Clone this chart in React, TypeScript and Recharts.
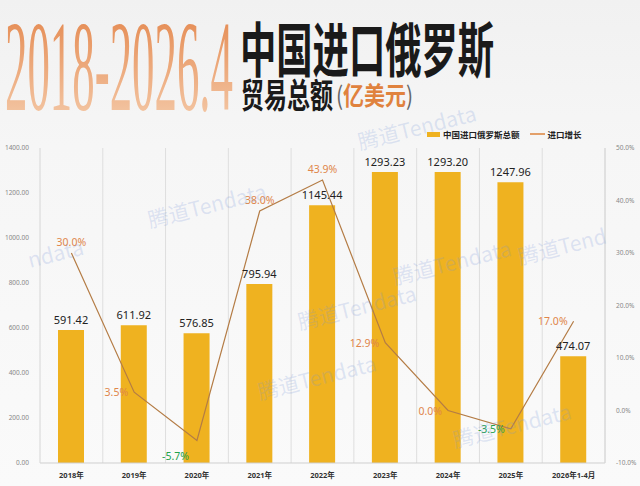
import { ComposedChart, Bar, Line, XAxis, YAxis, CartesianGrid, LabelList } from "recharts";

const YEARS = ["2018年", "2019年", "2020年", "2021年", "2022年", "2023年", "2024年", "2025年", "2026年1-4月"];
const TOTALS = [591.42, 611.92, 576.85, 795.94, 1145.44, 1293.23, 1293.2, 1247.96, 474.07];
const GROWTH = [30.0, 3.5, -5.7, 38.0, 43.9, 12.9, 0.0, -3.5, 17.0];
const LEFT_TICKS = [0, 200, 400, 600, 800, 1000, 1200, 1400];
const RIGHT_TICKS = [-10, 0, 10, 20, 30, 40, 50];

// where each growth label sits relative to its point
const GROWTH_LABEL_SIDE = ["top", "left", "below", "top", "top", "left", "left", "left", "left"];

const data = YEARS.map((year, i) => ({ year, total: TOTALS[i], growth: GROWTH[i] }));

const BAR_COLOR = "#efb220";
const LINE_COLOR = "#b47c45";
const CJK = "'Noto Sans CJK SC', sans-serif";

const WATERMARKS = [
  { x: 30, y: 268, t: "ndata" },
  { x: 150, y: 228, t: "腾道Tendata" },
  { x: 260, y: 400, t: "腾道Tendata" },
  { x: 300, y: 330, t: "腾道Tendata" },
  { x: 395, y: 285, t: "腾道Tendata" },
  { x: 520, y: 265, t: "腾道Tend" },
  { x: 455, y: 448, t: "腾道Tendata" },
  { x: 360, y: 150, t: "腾道Tendata" },
];

function GrowthLabel(props: any) {
  const { x, y, value, index } = props;
  const side = GROWTH_LABEL_SIDE[index];
  const fill = value < 0 ? "#22a24c" : "#e0864a";
  const text = `${Number(value).toFixed(1)}%`;
  if (side === "top") {
    return (
      <text x={x} y={y - 7} textAnchor="middle" fontSize={10.5} fill={fill}>
        {text}
      </text>
    );
  }
  if (side === "below") {
    return (
      <text x={x - 8} y={y + 20} textAnchor="end" fontSize={10.5} fill={fill}>
        {text}
      </text>
    );
  }
  return (
    <text x={x - 6} y={y + 4} textAnchor="end" fontSize={10.5} fill={fill}>
      {text}
    </text>
  );
}

export default function App() {
  return (
    <div
      style={{
        position: "absolute",
        left: 0,
        top: 0,
        width: 640,
        height: 486,
        overflow: "hidden",
        background: "linear-gradient(180deg, #f1f1f1 0%, #f6f6f6 30%, #fafafa 100%)",
        fontFamily: "'Noto Sans', 'Noto Sans CJK SC', sans-serif",
      }}
    >
      <svg width={640} height={122} style={{ position: "absolute", left: 0, top: 0 }}>
        <defs>
          <linearGradient id="yr" x1="0" y1="0" x2="0" y2="1">
            <stop offset="0%" stopColor="#e27f42" />
            <stop offset="100%" stopColor="#f6d2b4" />
          </linearGradient>
        </defs>
        <g transform="translate(5,110) scale(0.345,1)">
          <text x={0} y={0} fontFamily="'Liberation Serif', serif" fontSize={130} fill="url(#yr)">
            2018-2026.4
          </text>
        </g>
        <g transform="translate(240,72) scale(1,1.62)">
          <text x={0} y={0} fontFamily={CJK} fontWeight={700} fontSize={36.3} fill="#1a1a1a">
            中国进口俄罗斯
          </text>
        </g>
        <g transform="translate(241,108) scale(1,1.5)">
          <text x={0} y={0} fontFamily={CJK} fontWeight={700} fontSize={23} fill="#1a1a1a">
            贸易总额
          </text>
        </g>
        <g transform="translate(336,105) scale(1,1.2)">
          <text x={0} y={0} fontFamily={CJK} fontSize={21}>
            <tspan fill="#666">(</tspan>
            <tspan fill="#e0823e" fontWeight={700}>亿美元</tspan>
            <tspan fill="#666">)</tspan>
          </text>
        </g>
      </svg>

      <div
        style={{
          position: "absolute",
          left: 427,
          top: 128,
          display: "flex",
          alignItems: "center",
          fontSize: 8.5,
          color: "#222",
          fontWeight: 700,
        }}
      >
        <span style={{ display: "inline-block", width: 13, height: 5, background: BAR_COLOR, marginRight: 3 }} />
        <span style={{ marginRight: 10 }}>中国进口俄罗斯总额</span>
        <span style={{ display: "inline-block", width: 15, height: 1.5, background: "#e3a06a", marginRight: 3 }} />
        <span>进口增长</span>
      </div>

      <div style={{ position: "absolute", left: 0, top: 120 }}>
        <ComposedChart width={640} height={360} data={data} margin={{ top: 28, right: 5, bottom: 0, left: 8 }}>
          <CartesianGrid
            horizontal={false}
            stroke="#dedede"
            verticalCoordinatesGenerator={({ offset }: any) =>
              YEARS.map((_, i) => offset.left + ((i + 1) * offset.width) / YEARS.length)
            }
          />
          <XAxis
            dataKey="year"
            tickLine={false}
            axisLine={{ stroke: "#cfcfcf" }}
            tick={{ fontSize: 7.5, fill: "#333", fontWeight: 700 }}
            tickMargin={4}
            height={17}
            interval={0}
          />
          <YAxis
            yAxisId="left"
            domain={[0, 1400]}
            ticks={LEFT_TICKS}
            tickFormatter={(v: number) => v.toFixed(2)}
            tick={{ fontSize: 6.5, fill: "#888" }}
            tickLine={false}
            axisLine={{ stroke: "#d6d6d6" }}
            tickMargin={5}
            width={32}
          />
          <YAxis
            yAxisId="right"
            orientation="right"
            domain={[-10, 50]}
            ticks={RIGHT_TICKS}
            tickFormatter={(v: number) => `${v.toFixed(1)}%`}
            tick={{ fontSize: 6.5, fill: "#888" }}
            tickLine={false}
            axisLine={{ stroke: "#d6d6d6" }}
            tickMargin={5}
            width={30}
          />
          <Bar yAxisId="left" dataKey="total" fill={BAR_COLOR} barSize={26} isAnimationActive={false}>
            <LabelList dataKey="total" position="top" offset={6} fontSize={11} fill="#222" formatter={(v: number) => v.toFixed(2)} />
          </Bar>
          <Line
            yAxisId="right"
            dataKey="growth"
            type="linear"
            stroke={LINE_COLOR}
            strokeWidth={1.2}
            dot={false}
            activeDot={false}
            isAnimationActive={false}
          >
            <LabelList dataKey="growth" content={<GrowthLabel />} />
          </Line>
        </ComposedChart>
      </div>

      <svg width={640} height={486} style={{ position: "absolute", left: 0, top: 0, pointerEvents: "none" }}>
        {WATERMARKS.map((w, i) => (
          <text
            key={i}
            x={w.x}
            y={w.y}
            fontSize={21}
            fill="rgba(120,150,215,0.22)"
            fontFamily={CJK}
            transform={`rotate(-14 ${w.x} ${w.y})`}
          >
            {w.t}
          </text>
        ))}
      </svg>
    </div>
  );
}
